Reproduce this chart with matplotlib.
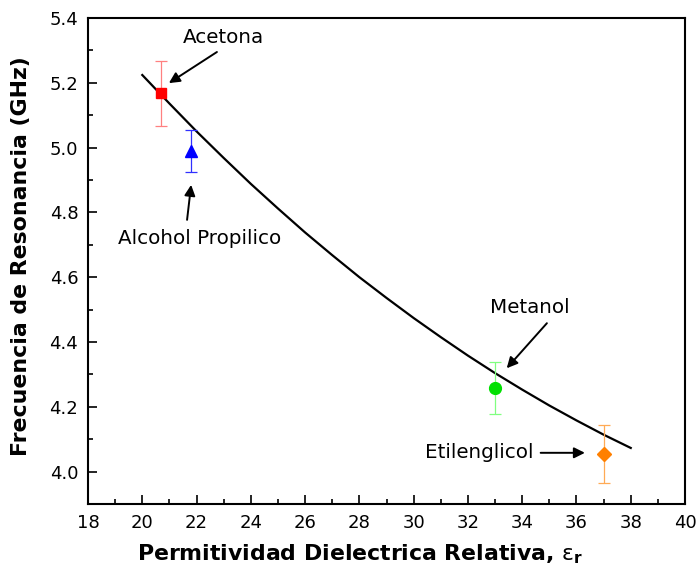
### Resonance frequency of the sensor versus relative permittivity
### of the liquid under test, with the fitted curve and labelled samples

import matplotlib.pyplot as pp
from matplotlib.ticker import MultipleLocator, FormatStrFormatter

# Measured samples (permittivity, frequency in GHz, error bar half width)
names = ['Acetona', 'Alcohol Propilico', 'Metanol', 'Etilenglicol']
eps_r = [20.7, 21.8, 33.0, 37.0]
freq = [5.167, 4.99, 4.257, 4.055]
ferr = [0.10, 0.065, 0.08, 0.09]

# Fitted curve, read point by point
fit_eps = [20, 21, 22, 23, 24, 25, 26, 27, 28, 29, 30, 31, 32, 33, 34, 35, 36, 37, 38]
fit_freq = [5.224, 5.136, 5.050, 4.968, 4.888, 4.812, 4.738, 4.668, 4.600, 4.536,
            4.474, 4.415, 4.358, 4.304, 4.253, 4.204, 4.158, 4.114, 4.073]

# Label text position and arrow tail/head for each sample
text_xy = [(23.0, 5.341), (22.13, 4.718), (34.29, 4.508), (32.4, 4.058)]
tail_xy = [(22.75, 5.295), (21.65, 4.777), (34.91, 4.458), (34.68, 4.058)]
head_xy = [(20.98, 5.199), (21.80, 4.885), (33.43, 4.319), (36.31, 4.058)]

# Marker styles
markers = ['s', '^', 'o', 'D']
mcolors = ['#FF0000', '#0000FF', '#00E000', '#FF8000']
ecolors = ['#FF8080', '#3030FF', '#80FF80', '#FFAA55']
msizes = [7.5, 8.5, 8.5, 7.5]

pp.rcParams['font.family'] = ['DejaVu Sans']
pp.rcParams['mathtext.fontset'] = 'dejavusans'

fig = pp.figure(figsize=(6.98, 5.82), dpi=100)
ax = fig.add_axes([0.1261, 0.1340, 0.8553, 0.8351])

# Fit line
ax.plot(fit_eps, fit_freq, color='black', lw=1.6, zorder=2)

# Data points with error bars
for i in range(len(names)):
    ax.errorbar(eps_r[i], freq[i], yerr=ferr[i], fmt='none', ecolor=ecolors[i],
                elinewidth=0.9, capsize=4, capthick=0.9, zorder=3)
    ax.plot(eps_r[i], freq[i], marker=markers[i], ms=msizes[i], color=mcolors[i],
            mec=mcolors[i], ls='none', zorder=4)

# Labels with arrows
for i in range(len(names)):
    ax.text(text_xy[i][0], text_xy[i][1], names[i], fontsize=14.3,
            ha='center', va='center')
    ax.annotate('', xy=head_xy[i], xytext=tail_xy[i],
                arrowprops=dict(arrowstyle='-|>', color='black', lw=1.4,
                                mutation_scale=16, shrinkA=0, shrinkB=0))

# Axes
ax.set_xlim(18, 40)
ax.set_ylim(3.9, 5.4)
ax.xaxis.set_major_locator(MultipleLocator(2))
ax.xaxis.set_minor_locator(MultipleLocator(1))
ax.yaxis.set_major_locator(MultipleLocator(0.2))
ax.yaxis.set_minor_locator(MultipleLocator(0.1))
ax.yaxis.set_major_formatter(FormatStrFormatter('%.1f'))
ax.tick_params(which='both', direction='in', top=False, right=False, width=1.2)
ax.tick_params(which='major', length=6.5, labelsize=13, pad=7)
ax.tick_params(which='minor', length=3.5)
for sp in ax.spines.values():
    sp.set_linewidth(1.5)

ax.set_xlabel(r'Permitividad Dielectrica Relativa, $\mathrm{\varepsilon}_\mathbf{r}$',
              fontsize=15.8, fontweight='bold')
ax.set_ylabel('Frecuencia de Resonancia (GHz)', fontsize=15.8, fontweight='bold')
ax.xaxis.set_label_coords(0.455, -0.08)
ax.yaxis.set_label_coords(-0.095, 0.51)

pp.savefig('out.png', dpi=100)
pp.close()
